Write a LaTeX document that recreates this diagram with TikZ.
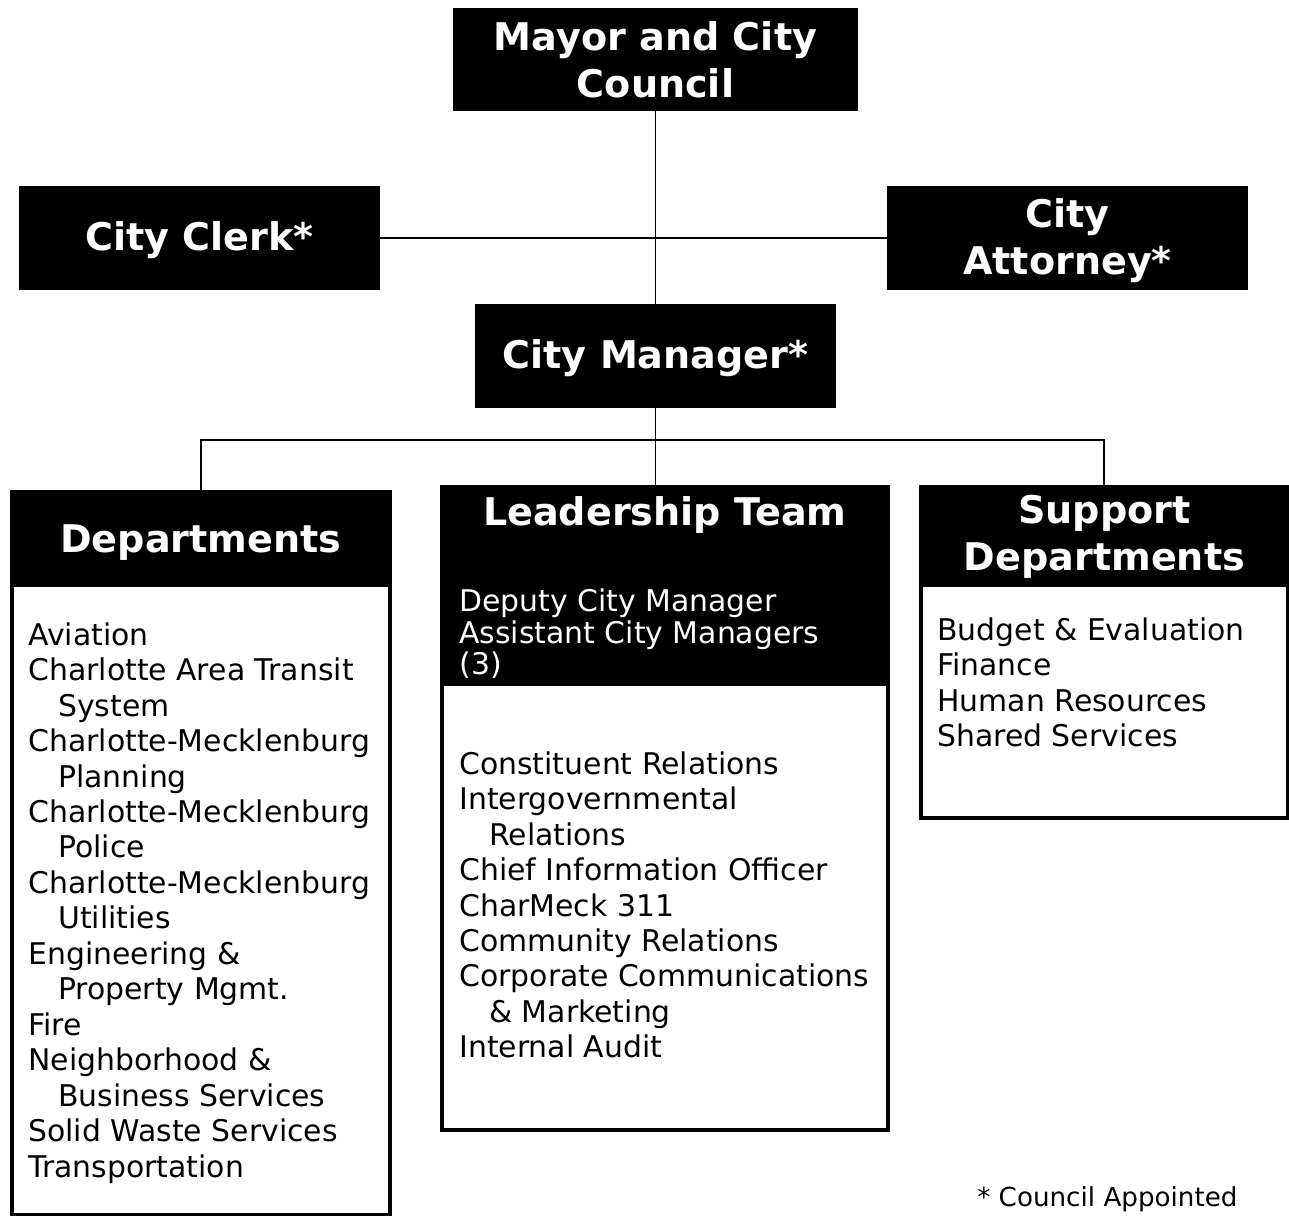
\documentclass[tikz,border=0pt]{standalone}
\usepackage{fontspec}
\setmainfont{DejaVu Sans}
\usetikzlibrary{positioning}

\newcommand{\subline}{\hspace*{17pt}}
\newcommand{\boxlines}[1]{\raisebox{-2pt}[\height][\depth]{\begin{tabular}{@{}c@{}}#1\end{tabular}}}

\begin{document}
\begin{tikzpicture}[
    x=0.02cm, y=-0.02cm,
    headbox/.style={fill=black, text=white, align=center, inner sep=0pt,
      font=\bfseries\fontsize{21.7}{26.6}\selectfont},
    panel/.style={draw=black, line width=2.2pt, fill=white, anchor=north west, inner sep=0pt},
    paneltitle/.style={text=white, align=center, inner sep=0pt,
      font=\bfseries\fontsize{21.7}{26.6}\selectfont},
    unitlist/.style={anchor=north west, inner sep=0pt, align=left,
      font=\fontsize{17}{20.2}\selectfont},
    wire/.style={line width=1.1pt}
  ]
    \useasboundingbox (0,0) rectangle (1289,1216);

    % top of the chart
    \node[headbox, minimum width=8.1cm, minimum height=2.06cm] (mayor) at (655.5,59.5) {Mayor and City\\Council};
    \node[headbox, minimum width=7.22cm, minimum height=2.08cm] (clerk) at (199.5,238) {\boxlines{City Clerk*}};
    \node[headbox, minimum width=7.22cm, minimum height=2.08cm] (attorney) at (1067.5,238) {\boxlines{City\\Attorney*}};
    \node[headbox, minimum width=7.22cm, minimum height=2.08cm] (manager) at (655.5,356) {\boxlines{City Manager*}};

    % the three panels
    \node[panel, minimum width=7.56cm, minimum height=14.46cm] (dept) at (10,490) {};
    \node[panel, minimum width=8.92cm, minimum height=12.86cm] (lead) at (440,485) {};
    \node[panel, minimum width=7.34cm, minimum height=6.62cm] (supp) at (919,485) {};
    \fill (dept.north west) rectangle (dept.north east |- 0,587);
    \fill (lead.north west) rectangle (lead.north east |- 0,686);
    \fill (supp.north west) rectangle (supp.north east |- 0,587);

    \node[paneltitle] (depthead) at (dept.north |- 0,543) {Departments};
    \node[paneltitle] (leadhead) at (lead.north |- 0,515) {Leadership Team};
    \node[paneltitle] (supphead) at (supp.north |- 0,537) {Support\\Departments};

    \node[unitlist, text=white, font=\fontsize{17}{18.2}\selectfont] (leaddeputy) at (459,588)
      {Deputy City Manager\\Assistant City Managers\\(3)};

    \node[unitlist] (deptlist) at (28,622) {Aviation\\
      Charlotte Area Transit\\\subline System\\
      Charlotte-Mecklenburg\\\subline Planning\\
      Charlotte-Mecklenburg\\\subline Police\\
      Charlotte-Mecklenburg\\\subline Utilities\\
      Engineering \&\\\subline Property Mgmt.\\
      Fire\\
      Neighborhood \&\\\subline Business Services\\
      Solid Waste Services\\
      Transportation};

    \node[unitlist] (leadlist) at (459,751) {Constituent Relations\\
      Intergovernmental\\\subline Relations\\
      Chief Information Officer\\
      CharMeck 311\\
      Community Relations\\
      Corporate Communications\\\subline \& Marketing\\
      Internal Audit};

    \node[unitlist] (supplist) at (937,617) {Budget \& Evaluation\\
      Finance\\
      Human Resources\\
      Shared Services};

    \node[anchor=base west, inner sep=0pt, font=\fontsize{14.9}{17}\selectfont] (note) at (977,1206) {* Council Appointed};

    % connectors
    \coordinate (bus) at (manager.south |- 0,440);
    \draw[wire] (mayor) -- (manager);
    \draw[wire] (clerk) -- (attorney);
    \draw[wire] (manager.south) -- (manager.south |- lead.north);
    \draw[wire] (dept.north) |- (bus) -| (supp.north);
\end{tikzpicture}
\end{document}
